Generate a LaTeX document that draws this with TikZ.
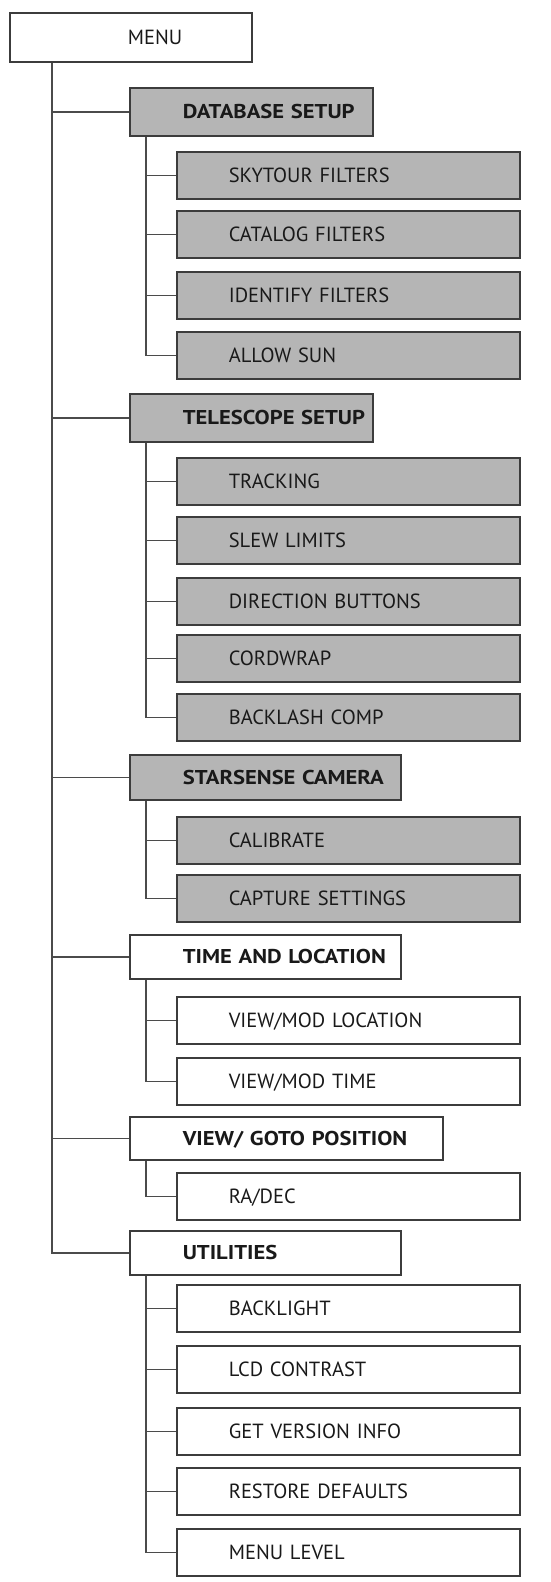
\documentclass[tikz,border=0pt]{standalone}
\usepackage{fontspec}
\setmainfont{PT Sans}
\newfontfamily\widesans[FakeStretch=1.13]{PT Sans}
\definecolor{boxgray}{RGB}{181,181,181}
\definecolor{boxline}{RGB}{60,60,60}
\definecolor{linegray}{RGB}{75,75,75}
\definecolor{textgray}{RGB}{25,25,25}

\tikzset{
  box/.style 2 args={draw=boxline, line width=1.6pt, anchor=north west, align=left,
    inner sep=0pt, text depth=0pt, text height=14.6pt, text=textgray,
    text width=#1, execute at begin node={\hspace*{#2}},
    font=\fontsize{20.5}{24}\selectfont},
  itembox/.style={box={343pt}{52pt}, minimum height=47pt},
  groupbox/.style={box={#1}{53pt}, minimum height=46pt, text height=14pt,
    font=\widesans\fontsize{20}{24}\selectfont\bfseries},
  shaded/.style={fill=boxgray},
  link/.style={draw=linegray, line width=1.6pt}
}

\begin{document}
\begin{tikzpicture}[x=1pt,y=-1pt]
\useasboundingbox (0,0) rectangle (551,1582);

% top box
\node[box={242pt}{118pt}, minimum height=49pt] (menu) at (9,12) {MENU};

% first level
\node[groupbox=243pt, shaded, minimum height=48pt] (dbsetup) at (129,87) {DATABASE SETUP};
\node[groupbox=243pt, shaded, minimum height=48pt] (scopesetup) at (129,393) {TELESCOPE SETUP};
\node[groupbox=271pt, shaded, minimum height=45pt] (starsense) at (129,754) {STARSENSE CAMERA};
\node[groupbox=271pt, minimum height=44pt] (timeloc) at (129,934) {TIME AND LOCATION};
\node[groupbox=313pt, minimum height=43pt] (gotopos) at (129,1116) {VIEW/ GOTO POSITION};
\node[groupbox=271pt, minimum height=44pt] (utilities) at (129,1230) {UTILITIES};

% second level
\node[itembox, shaded] (skytour) at (176,151) {SKYTOUR FILTERS};
\node[itembox, shaded] (catalog) at (176,210) {CATALOG FILTERS};
\node[itembox, shaded] (identify) at (176,271) {IDENTIFY FILTERS};
\node[itembox, shaded] (allowsun) at (176,331) {ALLOW SUN};

\node[itembox, shaded] (tracking) at (176,457) {TRACKING};
\node[itembox, shaded] (slew) at (176,516) {SLEW LIMITS};
\node[itembox, shaded] (direction) at (176,577) {DIRECTION BUTTONS};
\node[itembox, shaded] (cordwrap) at (176,634) {CORDWRAP};
\node[itembox, shaded] (backlash) at (176,693) {BACKLASH COMP};

\node[itembox, shaded] (calibrate) at (176,816) {CALIBRATE};
\node[itembox, shaded] (capture) at (176,874) {CAPTURE SETTINGS};

\node[itembox] (viewloc) at (176,996) {VIEW/MOD LOCATION};
\node[itembox] (viewtime) at (176,1057) {VIEW/MOD TIME};

\node[itembox] (radec) at (176,1172) {RA/DEC};

\node[itembox] (backlight) at (176,1284) {BACKLIGHT};
\node[itembox] (lcd) at (176,1345) {LCD CONTRAST};
\node[itembox] (version) at (176,1407) {GET VERSION INFO};
\node[itembox] (restore) at (176,1467) {RESTORE DEFAULTS};
\node[itembox] (menulevel) at (176,1528) {MENU LEVEL};

% main trunk
\path (menu.south west) ++(43,0) coordinate (trunk);
\draw[link] (trunk) |- (utilities.west);
\foreach \g in {dbsetup,scopesetup,starsense,timeloc,gotopos}
  \draw[link] (trunk |- \g.west) -- (\g.west);

% branches
\foreach \g/\last/\items in {dbsetup/allowsun/{skytour,catalog,identify},
    scopesetup/backlash/{tracking,slew,direction,cordwrap},
    starsense/capture/{calibrate},
    timeloc/viewtime/{viewloc},
    gotopos/radec/{},
    utilities/menulevel/{backlight,lcd,version,restore}}{
  \path (\g.south west) ++(17,0) coordinate (\g-stem);
  \draw[link] (\g-stem) |- (\last.west);
  \foreach \c in \items
    \draw[link] (\g-stem |- \c.west) -- (\c.west);
}

\end{tikzpicture}
\end{document}
